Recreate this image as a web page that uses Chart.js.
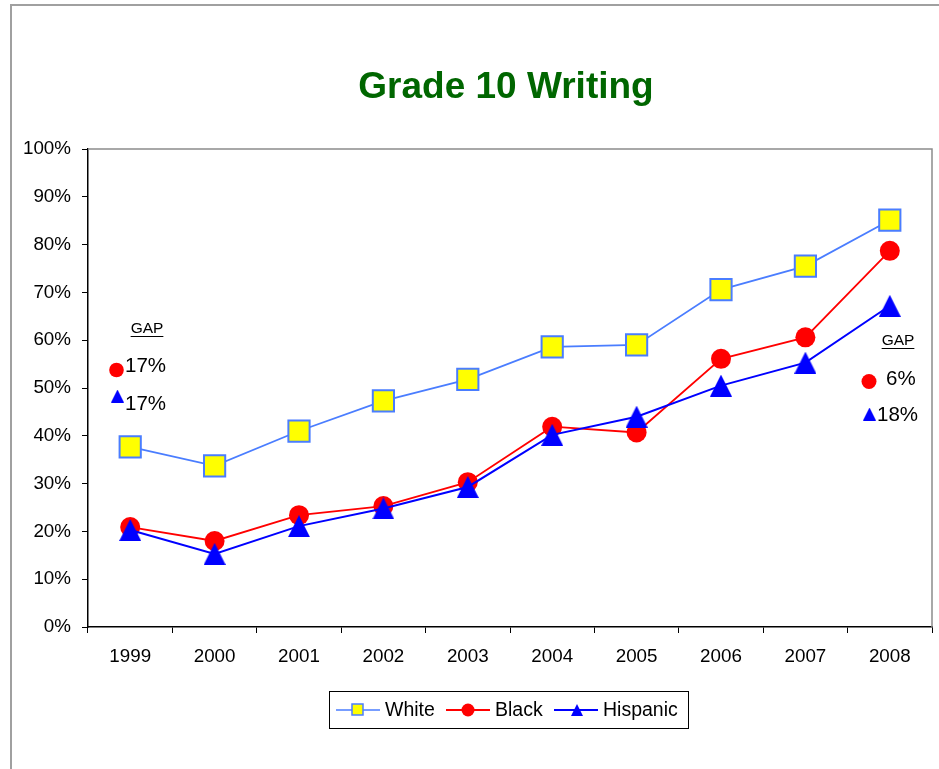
<!DOCTYPE html>
<html>
<head>
<meta charset="utf-8">
<script src="https://cdn.jsdelivr.net/npm/chart.js@4"></script>
<style>
  html, body { margin: 0; padding: 0; background: #fff; overflow: hidden; }
  #wrap { position: relative; width: 939px; height: 769px; }
  #frame { position: absolute; left: 10px; top: 4px; width: 1000px; height: 1000px; border: 2px solid #a0a0a0; }
  canvas { position: absolute; left: 0; top: 0; }
</style>
</head>
<body>
<div id="wrap">
  <div id="frame"></div>
  <canvas id="chart" width="939" height="769"></canvas>
</div>
<script>
const years = ['1999', '2000', '2001', '2002', '2003', '2004', '2005', '2006', '2007', '2008'];
const white = [37.7, 33.7, 41.0, 47.3, 51.8, 58.6, 59.0, 70.6, 75.5, 85.1];
const black = [20.9, 18.0, 23.4, 25.3, 30.3, 41.9, 40.7, 56.1, 60.6, 78.7];
const hispanic = [20.3, 15.3, 21.1, 24.8, 29.3, 40.2, 44.0, 50.5, 55.3, 67.2];

// gap vs White, first and last year (Black, Hispanic)
const gapFirst = ['17%', '17%'];
const gapLast = ['6%', '18%'];

const FONT = '"Liberation Sans", Arial, sans-serif';
const WHITE_LINE = '#4A7DFF';

// triangle marker centred on its box, like Excel's
function triangle(w, h, color) {
    const c = document.createElement('canvas');
    c.width = w; c.height = h;
    const g = c.getContext('2d');
    g.fillStyle = color;
    g.beginPath();
    g.moveTo(w / 2, 0);
    g.lineTo(w, h);
    g.lineTo(0, h);
    g.closePath();
    g.fill();
    return c;
}
const triBig = triangle(22, 22, '#0000FF');
const triSmall = triangle(13, 13, '#0000FF');
const triLegend = triangle(12, 12, '#0000FF');

function dot(ctx, x, y, r, color) {
    ctx.fillStyle = color;
    ctx.beginPath();
    ctx.arc(x, y, r, 0, Math.PI * 2);
    ctx.fill();
}

const extras = {
    id: 'extras',
    afterDraw(chart) {
        const ctx = chart.ctx;
        const a = chart.chartArea;
        ctx.save();

        // plot area border (top + right)
        ctx.strokeStyle = '#8c8c8c';
        ctx.lineWidth = 1.5;
        ctx.beginPath();
        ctx.moveTo(a.left, a.top);
        ctx.lineTo(a.right, a.top);
        ctx.lineTo(a.right, a.bottom);
        ctx.stroke();

        // title
        ctx.fillStyle = '#006600';
        ctx.font = 'bold 37px ' + FONT;
        ctx.textAlign = 'center';
        ctx.textBaseline = 'middle';
        ctx.fillText('Grade 10 Writing', 506, 88);

        // GAP notes
        const gap = (cx, gy) => {
            ctx.fillStyle = '#000';
            ctx.font = '15.5px ' + FONT;
            ctx.textAlign = 'center';
            ctx.textBaseline = 'middle';
            ctx.fillText('GAP', cx, gy);
            const w = ctx.measureText('GAP').width;
            ctx.fillRect(cx - w / 2, gy + 7, w, 1);
        };
        gap(147, 329);
        gap(898, 341);

        ctx.font = '20.5px ' + FONT;
        ctx.textAlign = 'left';
        ctx.textBaseline = 'middle';
        dot(ctx, 116.5, 370, 7.3, '#FF0000');
        ctx.drawImage(triSmall, 111, 389.5);
        ctx.fillStyle = '#000';
        ctx.fillText(gapFirst[0], 125, 366);
        ctx.fillText(gapFirst[1], 125, 404);

        dot(ctx, 869, 381.5, 7.5, '#FF0000');
        ctx.drawImage(triSmall, 863, 407.5);
        ctx.fillStyle = '#000';
        ctx.fillText(gapLast[0], 886, 379);
        ctx.fillText(gapLast[1], 877, 415);

        // legend
        ctx.strokeStyle = '#000';
        ctx.lineWidth = 1;
        ctx.strokeRect(329.5, 691.5, 359, 37);
        const ly = 710;
        const sample = (x0, color, lw) => {
            ctx.strokeStyle = color;
            ctx.lineWidth = lw;
            ctx.beginPath();
            ctx.moveTo(x0, ly);
            ctx.lineTo(x0 + 44, ly);
            ctx.stroke();
        };
        sample(336, WHITE_LINE, 1.5);
        ctx.fillStyle = '#FFFF00';
        ctx.fillRect(352, 704, 11, 11);
        ctx.strokeStyle = WHITE_LINE;
        ctx.strokeRect(352, 704, 11, 11);
        sample(446, '#FF0000', 1.8);
        dot(ctx, 468, ly, 6.5, '#FF0000');
        sample(554, '#0000FF', 1.8);
        ctx.drawImage(triLegend, 571, 704);

        ctx.fillStyle = '#000';
        ctx.font = '19.5px ' + FONT;
        ctx.textAlign = 'left';
        ctx.textBaseline = 'middle';
        const names = chart.data.datasets.map(d => d.label);
        ctx.fillText(names[0], 385, ly + 1);
        ctx.fillText(names[1], 495, ly + 1);
        ctx.fillText(names[2], 603, ly + 1);

        ctx.restore();
    }
};

new Chart(document.getElementById('chart'), {
    type: 'line',
    data: {
        labels: years,
        datasets: [
            {
                label: 'White', data: white, order: 2,
                borderColor: WHITE_LINE, borderWidth: 1.8,
                pointStyle: 'rect', pointRadius: 15, pointBorderWidth: 2,
                pointBackgroundColor: '#FFFF00', pointBorderColor: WHITE_LINE
            },
            {
                label: 'Black', data: black, order: 1,
                borderColor: '#FF0000', borderWidth: 1.8,
                pointStyle: 'circle', pointRadius: 10, pointBorderWidth: 0,
                pointBackgroundColor: '#FF0000', pointBorderColor: '#FF0000'
            },
            {
                label: 'Hispanic', data: hispanic, order: 0,
                borderColor: '#0000FF', borderWidth: 2,
                pointStyle: triBig, pointRadius: 11,
                pointBackgroundColor: '#0000FF', pointBorderColor: '#0000FF'
            }
        ]
    },
    options: {
        responsive: false,
        animation: false,
        layout: { autoPadding: false, padding: { top: 149, right: 7, left: 0, bottom: 0 } },
        plugins: {
            legend: { display: false },
            title: { display: false },
            tooltip: { enabled: false }
        },
        scales: {
            x: {
                offset: true,
                grid: { offset: true, drawOnChartArea: false, tickLength: 6, color: '#000', lineWidth: 1 },
                border: { display: true, color: '#000', width: 1.5 },
                ticks: { color: '#000', padding: 13, maxRotation: 0, font: { family: FONT, size: 18.8 } },
                afterFit(s) { s.height = 142; s.paddingLeft = 0; s.paddingRight = 0; }
            },
            y: {
                min: 0, max: 100,
                grid: { drawOnChartArea: false, tickLength: 6, color: '#000', lineWidth: 1 },
                border: { display: true, color: '#000', width: 1.5 },
                ticks: {
                    stepSize: 10, color: '#000', padding: 11,
                    font: { family: FONT, size: 18.8 },
                    callback: v => v + '%'
                },
                afterFit(s) { s.width = 88; s.paddingTop = 0; s.paddingBottom = 0; }
            }
        }
    },
    plugins: [extras]
});
</script>
</body>
</html>
